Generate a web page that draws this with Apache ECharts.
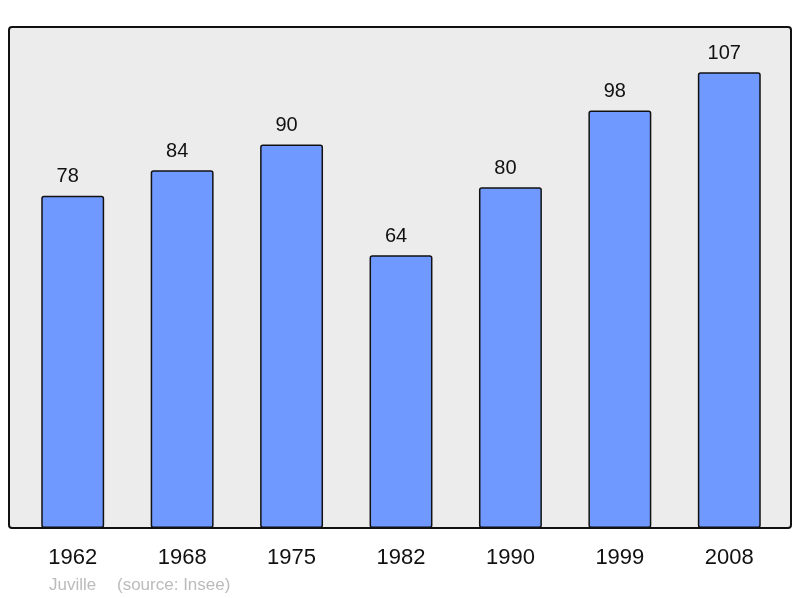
<!DOCTYPE html>
<html><head><meta charset="utf-8">
<script src="https://cdn.jsdelivr.net/npm/echarts@6/dist/echarts.min.js"></script>
<style>html,body{margin:0;padding:0;background:#fff}#c{width:800px;height:598px}</style>
</head><body><div id="c"></div>
<script>
var years = ['1962','1968','1975','1982','1990','1999','2008'];
var population = [78, 84, 90, 64, 80, 98, 107];
var town = 'Juville';
var source = '(source: Insee)';

var chart = echarts.init(document.getElementById('c'), null, {renderer:'canvas'});
chart.setOption({
  animation: false,
  backgroundColor: '#ffffff',
  graphic: [
    {type:'rect', z:-10, shape:{x:9, y:27, width:782, height:501, r:3},
     style:{fill:'#ececec', stroke:'#111', lineWidth:2}},
    {type:'text', left:49, top:577, style:{text:town, fill:'#bbbbbb', font:'17px "Liberation Sans", Arial, sans-serif'}},
    {type:'text', left:117, top:577, style:{text:source, fill:'#bbbbbb', font:'17px "Liberation Sans", Arial, sans-serif'}}
  ],
  grid: {left:18, right:16, top:27, bottom:70, show:false},
  xAxis: {
    type:'category', data: years,
    axisLine:{show:false}, axisTick:{show:false},
    axisLabel:{color:'#111', fontSize:22, margin:19, fontFamily:'"Liberation Sans", Arial, sans-serif'}
  },
  yAxis: {type:'value', min:0, max:117.6, show:false, splitLine:{show:false}},
  series: [{
    type:'bar', data: population, barWidth:'57.5%',
    itemStyle:{color:'#7099ff', borderColor:'#111', borderWidth:1.5, borderRadius:2},
    label:{show:true, position:'top', distance:9, offset:[-5,0], color:'#111', fontSize:20,
      fontFamily:'"Liberation Sans", Arial, sans-serif'}
  }]
});
</script></body></html>
